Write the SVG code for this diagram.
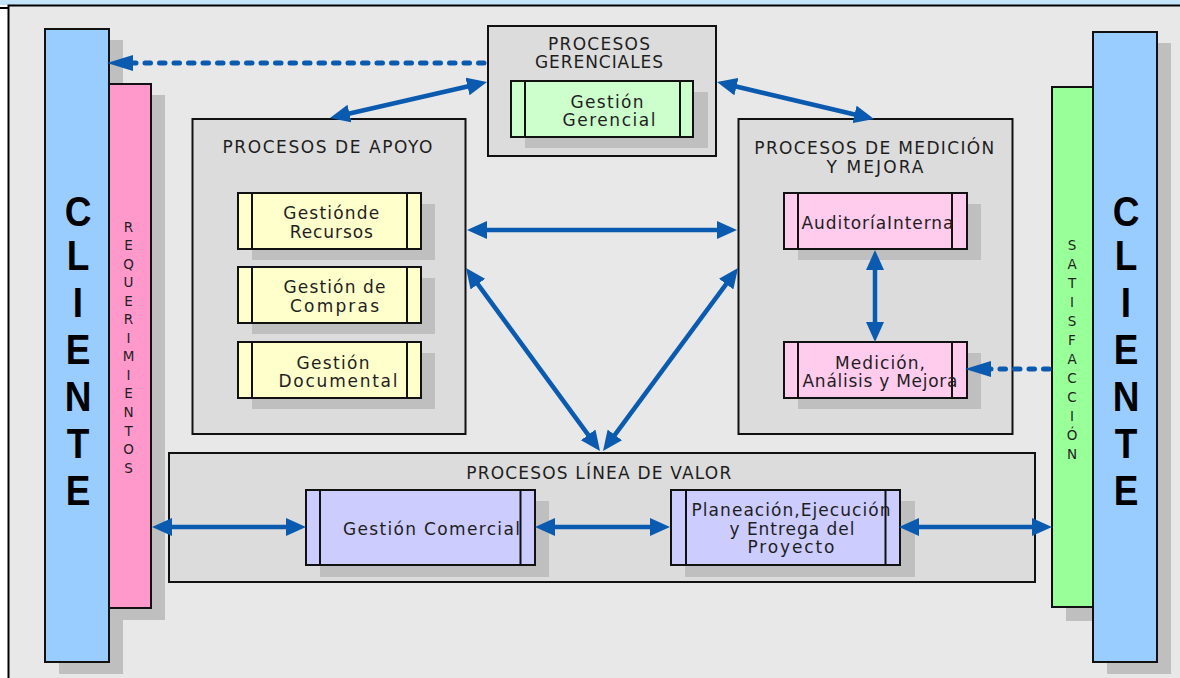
<svg xmlns="http://www.w3.org/2000/svg" width="1180" height="678" viewBox="0 0 1180 678">
  <style>
    .frame { fill: #e8e8e8; stroke: #000; stroke-width: 2; }
    .group { fill: #dcdcdc; stroke: #111; stroke-width: 2; }
    .shadow { fill: #bfbfbf; }
    .proc { stroke: #111; stroke-width: 2; }
    .bar { stroke: #111; stroke-width: 2; }
    .side { stroke: #111; stroke-width: 2; fill: none; }
    .t { font-family: "DejaVu Sans", "Liberation Sans", sans-serif; fill: #1e1e1e; text-anchor: middle; }
    .title { font-size: 17px; }
    .label { font-size: 17px; }
    .vert { font-family: "DejaVu Sans", "Liberation Sans", sans-serif; font-size: 13.5px; fill: #1e1e1e; text-anchor: middle; }
    .big { font-family: "Liberation Sans", Arial, sans-serif; font-weight: 700; font-size: 42px; fill: #000; text-anchor: middle; }
    .link { stroke: #0a5bb0; stroke-width: 4.5; fill: none; marker-start: url(#head); marker-end: url(#head); }
    .dots { stroke: #0a5bb0; stroke-width: 5; fill: none; stroke-linecap: round; stroke-dasharray: 5.5 9; marker-end: url(#dothead); }
  </style>
  <defs>
    <marker id="head" markerUnits="userSpaceOnUse" viewBox="0 0 20 18" markerWidth="20" markerHeight="18" refX="10" refY="9" orient="auto-start-reverse">
      <path d="M0,0 L20,9 L0,18 Z" fill="#0a5bb0"/>
    </marker>
    <marker id="dothead" markerUnits="userSpaceOnUse" viewBox="0 0 26 16" markerWidth="26" markerHeight="16" refX="12" refY="8" orient="auto">
      <path d="M0,0 L26,8 L0,16 Z" fill="#0a5bb0"/>
    </marker>
  </defs>

  <!-- page background and frame -->
  <rect x="0" y="0" width="1180" height="678" fill="#ffffff"/>
  <rect x="0" y="0" width="1180" height="5" fill="#c4e4f9"/>
  <line x1="0" y1="8" x2="9" y2="8" stroke="#000" stroke-width="2"/>
  <rect class="frame" x="8.5" y="5.5" width="1185" height="690"/>

  <!-- left client bar (letters condensed horizontally) -->
  <g id="cliente-entrada">
    <rect class="shadow" x="59" y="40" width="64" height="634"/>
    <rect class="bar" x="45" y="29" width="64" height="633" fill="#99ccff"/>
    <text class="big" transform="scale(0.88,1)" x="88.64" y="226">C<tspan x="88.64" dy="44">L</tspan><tspan x="88.64" dy="47">I</tspan><tspan x="88.64" dy="47">E</tspan><tspan x="88.64" dy="47">N</tspan><tspan x="88.64" dy="47">T</tspan><tspan x="88.64" dy="47">E</tspan></text>
  </g>

  <!-- requirements bar -->
  <g id="requerimientos">
    <rect class="shadow" x="123" y="95" width="42" height="525"/>
    <rect class="bar" x="109" y="84" width="42" height="524" fill="#ff99cc"/>
    <text class="vert" x="128.5" y="231.5">R<tspan x="128.5" dy="18.55">E</tspan><tspan x="128.5" dy="18.55">Q</tspan><tspan x="128.5" dy="18.55">U</tspan><tspan x="128.5" dy="18.55">E</tspan><tspan x="128.5" dy="18.55">R</tspan><tspan x="128.5" dy="18.55">I</tspan><tspan x="128.5" dy="18.55">M</tspan><tspan x="128.5" dy="18.55">I</tspan><tspan x="128.5" dy="18.55">E</tspan><tspan x="128.5" dy="18.55">N</tspan><tspan x="128.5" dy="18.55">T</tspan><tspan x="128.5" dy="18.55">O</tspan><tspan x="128.5" dy="18.55">S</tspan></text>
  </g>

  <!-- satisfaction bar -->
  <g id="satisfaccion">
    <rect class="shadow" x="1066" y="98" width="41" height="523"/>
    <rect class="bar" x="1052" y="87" width="41" height="520" fill="#99ff99"/>
    <text class="vert" x="1072" y="250">S<tspan x="1072" dy="19">A</tspan><tspan x="1072" dy="19">T</tspan><tspan x="1072" dy="19">I</tspan><tspan x="1072" dy="19">S</tspan><tspan x="1072" dy="19">F</tspan><tspan x="1072" dy="19">A</tspan><tspan x="1072" dy="19">C</tspan><tspan x="1072" dy="19">C</tspan><tspan x="1072" dy="19">I</tspan><tspan x="1072" dy="19">Ó</tspan><tspan x="1072" dy="19">N</tspan></text>
  </g>

  <!-- right client bar (letters condensed horizontally) -->
  <g id="cliente-salida">
    <rect class="shadow" x="1107" y="43" width="64" height="631"/>
    <rect class="bar" x="1093" y="32" width="64" height="630" fill="#99ccff"/>
    <text class="big" transform="scale(0.88,1)" x="1279.55" y="226">C<tspan x="1279.55" dy="44">L</tspan><tspan x="1279.55" dy="47">I</tspan><tspan x="1279.55" dy="47">E</tspan><tspan x="1279.55" dy="47">N</tspan><tspan x="1279.55" dy="47">T</tspan><tspan x="1279.55" dy="47">E</tspan></text>
  </g>

  <!-- management processes -->
  <g id="procesos-gerenciales">
    <rect class="group" x="488" y="26" width="228" height="130"/>
    <text class="t title" x="599" y="50" textLength="102">PROCESOS</text>
    <text class="t title" x="599" y="68" textLength="128">GERENCIALES</text>
  </g>
  <g id="gestion-gerencial">
    <rect class="shadow" x="525" y="92" width="183" height="56"/>
    <rect class="proc" x="511" y="81" width="182" height="56" fill="#ccffcc"/>
    <line class="side" x1="525" y1="81" x2="525" y2="137"/>
    <line class="side" x1="680" y1="81" x2="680" y2="137"/>
    <text class="t label" x="607" y="108" textLength="73">Gestión</text>
    <text class="t label" x="609" y="126" textLength="93">Gerencial</text>
  </g>

  <!-- support processes -->
  <g id="procesos-apoyo">
    <rect class="group" x="192.5" y="119" width="273" height="315"/>
    <text class="t title" x="327.5" y="153" textLength="210">PROCESOS DE APOYO</text>
  </g>
  <g id="gestion-recursos">
    <rect class="shadow" x="252" y="204" width="183" height="56"/>
    <rect class="proc" x="238" y="193" width="183" height="56" fill="#ffffcc"/>
    <line class="side" x1="252" y1="193" x2="252" y2="249"/>
    <line class="side" x1="407" y1="193" x2="407" y2="249"/>
    <text class="t label" x="331.3" y="219" textLength="96">Gestiónde</text>
    <text class="t label" x="331.3" y="238" textLength="83">Recursos</text>
  </g>
  <g id="gestion-compras">
    <rect class="shadow" x="252" y="278" width="183" height="56"/>
    <rect class="proc" x="238" y="267" width="183" height="56" fill="#ffffcc"/>
    <line class="side" x1="252" y1="267" x2="252" y2="323"/>
    <line class="side" x1="407" y1="267" x2="407" y2="323"/>
    <text class="t label" x="334.5" y="293" textLength="102">Gestión de</text>
    <text class="t label" x="334.5" y="312" textLength="89">Compras</text>
  </g>
  <g id="gestion-documental">
    <rect class="shadow" x="252" y="353" width="183" height="56"/>
    <rect class="proc" x="238" y="342" width="183" height="56" fill="#ffffcc"/>
    <line class="side" x1="252" y1="342" x2="252" y2="398"/>
    <line class="side" x1="407" y1="342" x2="407" y2="398"/>
    <text class="t label" x="333" y="369" textLength="73">Gestión</text>
    <text class="t label" x="338" y="387" textLength="119">Documental</text>
  </g>

  <!-- measurement and improvement processes -->
  <g id="procesos-medicion">
    <rect class="group" x="738.5" y="119" width="274" height="315"/>
    <text class="t title" x="874.3" y="154" textLength="240">PROCESOS DE MEDICIÓN</text>
    <text class="t title" x="875" y="172.5" textLength="97">Y MEJORA</text>
  </g>
  <g id="auditoria-interna">
    <rect class="shadow" x="798" y="204" width="183" height="56"/>
    <rect class="proc" x="784" y="193" width="183" height="56" fill="#ffccee"/>
    <line class="side" x1="798" y1="193" x2="798" y2="249"/>
    <line class="side" x1="952" y1="193" x2="952" y2="249"/>
    <text class="t label" x="877.5" y="229" textLength="152">AuditoríaInterna</text>
  </g>
  <g id="medicion-analisis">
    <rect class="shadow" x="798" y="353" width="183" height="56"/>
    <rect class="proc" x="784" y="342" width="183" height="56" fill="#ffccee"/>
    <line class="side" x1="798" y1="342" x2="798" y2="398"/>
    <line class="side" x1="952" y1="342" x2="952" y2="398"/>
    <text class="t label" x="880" y="369" textLength="90">Medición,</text>
    <text class="t label" x="880" y="387" textLength="155">Análisis y Mejora</text>
  </g>

  <!-- value chain processes -->
  <g id="procesos-linea-valor">
    <rect class="group" x="169" y="453" width="866" height="129"/>
    <text class="t title" x="598.7" y="479" textLength="265">PROCESOS LÍNEA DE VALOR</text>
  </g>
  <g id="gestion-comercial">
    <rect class="shadow" x="320" y="501" width="229" height="76"/>
    <rect class="proc" x="306" y="490" width="229" height="75" fill="#ccccff"/>
    <line class="side" x1="320" y1="490" x2="320" y2="565"/>
    <line class="side" x1="520.5" y1="490" x2="520.5" y2="565"/>
    <text class="t label" x="431.4" y="535" textLength="177">Gestión Comercial</text>
  </g>
  <g id="planeacion-ejecucion">
    <rect class="shadow" x="685" y="501" width="230" height="76"/>
    <rect class="proc" x="671" y="490" width="229" height="75" fill="#ccccff"/>
    <line class="side" x1="686" y1="490" x2="686" y2="565"/>
    <line class="side" x1="885.5" y1="490" x2="885.5" y2="565"/>
    <text class="t label" x="791" y="516" textLength="199">Planeación,Ejecución</text>
    <text class="t label" x="792" y="535" textLength="125">y Entrega del</text>
    <text class="t label" x="791" y="553" textLength="87">Proyecto</text>
  </g>

  <!-- connectors -->
  <g id="connectors">
    <line class="dots" x1="484" y1="63" x2="121" y2="63"/>
    <line class="dots" x1="1049" y1="369" x2="979" y2="369"/>
    <line class="link" x1="477.25" y1="84.24" x2="339.75" y2="115.76"/>
    <line class="link" x1="726.73" y1="84.29" x2="864.27" y2="116.71"/>
    <line class="link" x1="477" y1="230" x2="727" y2="230"/>
    <line class="link" x1="471.91" y1="276.07" x2="594.09" y2="442.93"/>
    <line class="link" x1="732.06" y1="276.05" x2="608.94" y2="442.95"/>
    <line class="link" x1="875" y1="260" x2="875" y2="332"/>
    <line class="link" x1="162" y1="527" x2="296" y2="527"/>
    <line class="link" x1="545" y1="527" x2="660" y2="527"/>
    <line class="link" x1="909" y1="527" x2="1042" y2="527"/>
  </g>
</svg>
